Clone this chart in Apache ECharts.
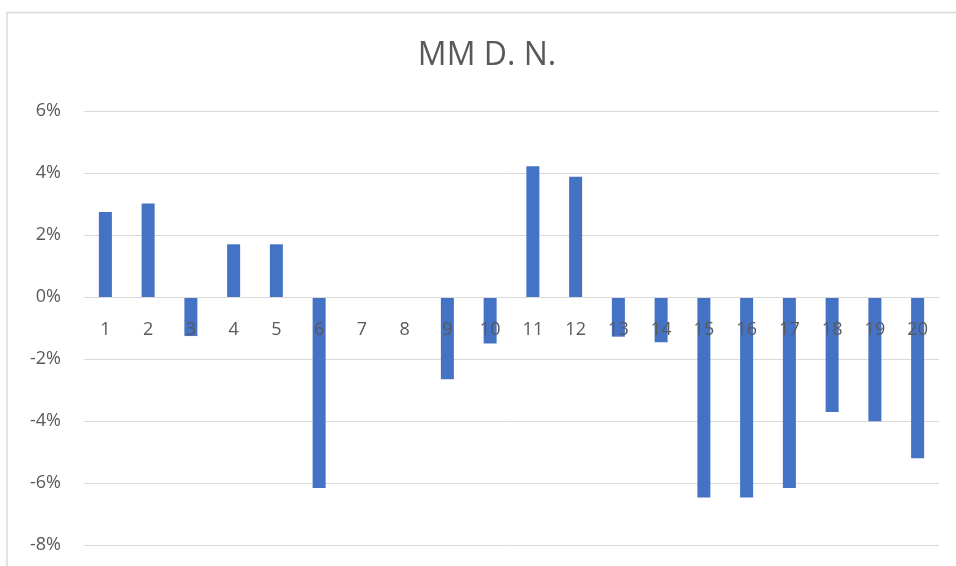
<!DOCTYPE html>
<html>
<head>
<meta charset="utf-8">
<script src="https://cdn.jsdelivr.net/npm/echarts@6/dist/echarts.min.js"></script>
<style>html,body{margin:0;padding:0;background:#fff}#c{width:956px;height:566px}</style>
</head>
<body>
<div id="c"></div>
<script>
var titleText = 'MM D. N.';
var categories = ['1','2','3','4','5','6','7','8','9','10','11','12','13','14','15','16','17','18','19','20'];
var values = [2.74, 3.02, -1.26, 1.70, 1.70, -6.16, 0, 0, -2.65, -1.50, 4.22, 3.88, -1.28, -1.46, -6.47, -6.47, -6.16, -3.71, -4.01, -5.20];
var yTicks = {min: -8, max: 6, interval: 2};

var chart = echarts.init(document.getElementById('c'), null, {renderer: 'canvas'});
var font = '"Open Sans", "Liberation Sans", sans-serif';
chart.setOption({
  animation: false,
  textStyle: {fontFamily: font},
  graphic: [
    {type: 'rect', shape: {x: 7, y: 12.5, width: 1000, height: 700}, style: {fill: 'none', stroke: '#d9d9d9', lineWidth: 1.5}, silent: true, z: -1},
    {type: 'text', x: 487, y: 56, style: {text: titleText, fill: '#595959', font: '32px ' + font, textAlign: 'center', textVerticalAlign: 'middle'}}
  ],
  grid: {left: 84, right: 17, top: 111, bottom: 21, containLabel: false, outerBoundsMode: 'none'},
  xAxis: {
    type: 'category',
    data: categories,
    position: 'bottom',
    offset: 0,
    z: 10,
    axisLine: {show: true, onZero: false, lineStyle: {color: '#d9d9d9', width: 1}},
    axisTick: {show: false},
    axisLabel: {color: '#595959', fontSize: 18, margin: 24, fontFamily: font},
    splitLine: {show: false}
  },
  yAxis: {
    type: 'value',
    min: yTicks.min, max: yTicks.max, interval: yTicks.interval,
    axisLine: {show: false},
    axisTick: {show: false},
    axisLabel: {color: '#595959', fontSize: 18, margin: 23, fontFamily: font, formatter: function (v) { return v + '%'; }},
    splitLine: {lineStyle: {color: '#d9d9d9', width: 1}}
  },
  series: [{
    type: 'bar',
    data: values,
    barWidth: 13,
    itemStyle: {color: '#4472C4'}
  }]
});
// move the category axis up to the zero line of the value scale
var yZero = chart.convertToPixel({yAxisIndex: 0}, 0);
var yBottom = chart.convertToPixel({yAxisIndex: 0}, yTicks.min);
chart.setOption({xAxis: {offset: -(yBottom - yZero)}});
</script>
</body>
</html>
